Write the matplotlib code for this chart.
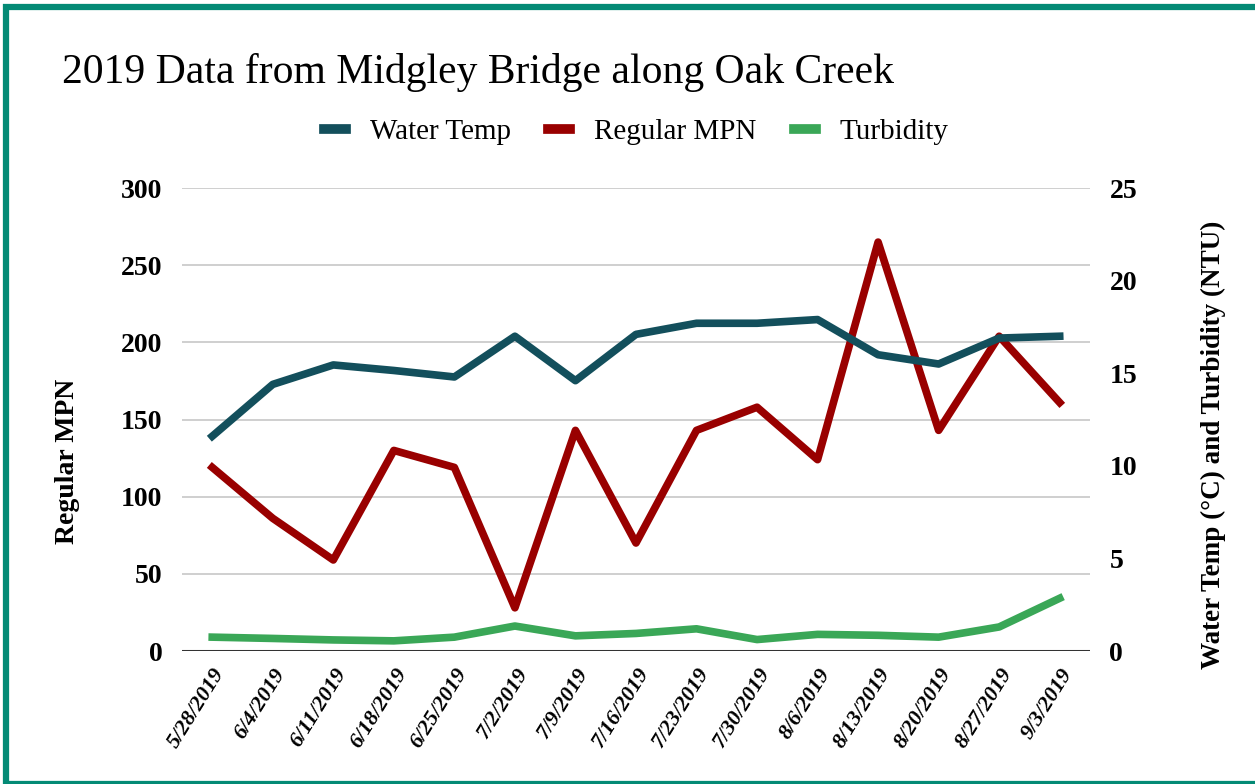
import matplotlib.pyplot as plt
from matplotlib.patches import Rectangle

plt.rcParams["font.family"] = ["Liberation Serif", "DejaVu Serif"]

fechas = [
    "5/28/2019", "6/4/2019", "6/11/2019", "6/18/2019", "6/25/2019",
    "7/2/2019", "7/9/2019", "7/16/2019", "7/23/2019", "7/30/2019",
    "8/6/2019", "8/13/2019", "8/20/2019", "8/27/2019", "9/3/2019",
]
water_temp = [11.6, 14.4, 15.45, 15.15, 14.8, 17.0, 14.6, 17.1,
              17.7, 17.7, 17.9, 16.0, 15.5, 16.9, 17.0]  # °C
regular_mpn = [119, 86, 59, 130, 119, 28, 143, 70,
               143, 158, 124, 265, 143, 204, 161]
turbidity = [0.75, 0.68, 0.6, 0.55, 0.75, 1.35, 0.82, 0.95,
             1.2, 0.62, 0.9, 0.85, 0.75, 1.3, 2.85]  # NTU

c_temp = "#134f5c"
c_mpn = "#990000"
c_turb = "#3aa757"

fig = plt.figure(figsize=(12.55, 7.84), dpi=100)
# marco verde alrededor
fig.patches.append(Rectangle((6 / 1255, 0.0), 1.2, 1 - 7 / 784, transform=fig.transFigure,
                             fill=False, edgecolor="#048a75", linewidth=4.5))

ax = fig.add_axes([0.145, 0.1696, 0.7235, 0.5905])
ax2 = ax.twinx()

x = list(range(len(fechas)))

l2, = ax.plot(x, regular_mpn, color=c_mpn, lw=5.5, label="Regular MPN", zorder=3)
l1, = ax2.plot(x, water_temp, color=c_temp, lw=5.5, label="Water Temp", zorder=3)
l3, = ax2.plot(x, turbidity, color=c_turb, lw=5.5, label="Turbidity", zorder=3)

ax.set_xlim(-0.5, len(fechas) - 0.5)
ax.set_ylim(0, 300)
ax2.set_ylim(0, 25)
ax.set_yticks(range(0, 301, 50))
ax2.set_yticks(range(0, 26, 5))

ax.grid(axis="y", color="#cccccc", lw=1.3)
ax.set_axisbelow(True)
ax.axhline(0, color="#333333", lw=2.2, zorder=4)
for a in (ax, ax2):
    for s in a.spines.values():
        s.set_visible(False)
    a.tick_params(length=0, labelsize=20, pad=14)
for t in ax.get_yticklabels() + ax2.get_yticklabels():
    t.set_fontweight("bold")

ax.set_xticks(x)
ax.set_xticklabels(fechas, rotation=58, ha="right", rotation_mode="anchor",
                   fontsize=16, fontweight="bold", fontstyle="italic")
ax.tick_params(axis="x", pad=10)

ax.set_ylabel("Regular MPN", fontsize=20, fontweight="bold")
ax.yaxis.set_label_coords(-0.112, 0.41)
ax2.set_ylabel("Water Temp (°C) and Turbidity (NTU)", fontsize=19.5,
               fontweight="bold")
ax2.yaxis.set_label_coords(1.122, 0.445)

fig.text(62 / 1255, 1 - 72 / 784, "2019 Data from Midgley Bridge along Oak Creek",
         fontsize=30, va="center", ha="left")

leg = fig.legend(handles=[l1, l2, l3], loc="center", bbox_to_anchor=(0.507, 1 - 132 / 784),
                 ncol=3, frameon=False, fontsize=21, handlelength=0.75,
                 handletextpad=0.8, columnspacing=1.3)
for h in leg.get_lines():
    h.set_linewidth(7)

fig.savefig("out.png", dpi=100)
